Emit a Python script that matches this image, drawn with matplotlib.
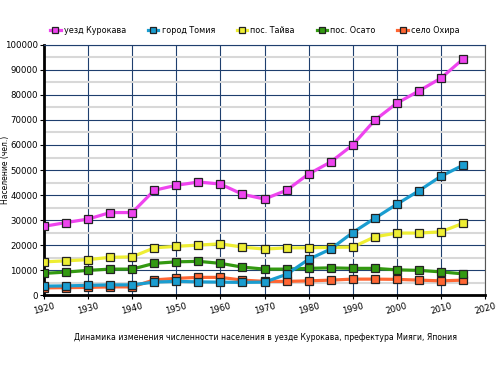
import matplotlib
matplotlib.use("Agg")
import matplotlib.pyplot as plt
import numpy as np

years = list(range(1920, 2020, 5))
series_names = ["уезд Курокава", "город Томия", "пос. Тайва", "пос. Осато", "село Охира"]
kurokawa = [27500, 29000, 30400, 33000, 33000, 41900, 43900, 45200, 44400, 40300,
            38400, 41900, 48400, 53200, 60000, 69900, 76700, 81600, 86700, 94300]
tomiya = [3600, 3700, 3900, 4100, 4100, 5200, 5500, 5300, 5200, 5100,
          5200, 8300, 14300, 18400, 25000, 30700, 36300, 41700, 47500, 51900]
taiwa = [13300, 13700, 14200, 15100, 15300, 18900, 19500, 20000, 20500, 19200,
         18400, 18900, 18900, 19100, 19200, 23300, 24800, 24800, 25300, 28700]
osato = [8700, 9200, 9900, 10400, 10400, 12700, 13300, 13500, 12700, 11200,
         10400, 10400, 10700, 10900, 10700, 10700, 10100, 9900, 9300, 8500]
ohira = [2900, 3000, 3100, 3300, 3300, 6100, 6700, 7100, 7100, 6000,
         5500, 5500, 5700, 6000, 6400, 6400, 6300, 6000, 5700, 6000]
colors = ["#ee44ee", "#1a9dd0", "#eeee33", "#339911", "#ff6633"]

all_series = [kurokawa, tomiya, taiwa, osato, ohira]

fig = plt.figure(figsize=(5.0, 3.68), dpi=100)
ax = fig.add_axes([0.088, 0.198, 0.882, 0.68])

# draw in reverse so the district line sits on top
handles = [None] * 5
for i in reversed(range(5)):
    (h,) = ax.plot(years, all_series[i], color=colors[i], lw=2.3,
                   marker="s", markersize=6.3, markerfacecolor=colors[i],
                   markeredgecolor="#222222", markeredgewidth=0.9,
                   label=series_names[i], zorder=3 + (5 - i))
    handles[i] = h

ax.set_xlim(1920, 2020)
ax.set_ylim(0, 100000)
ax.set_xticks(range(1920, 2021, 10))
ax.set_yticks(range(0, 100001, 10000))
ax.set_yticks(range(5000, 100000, 10000), minor=True)
ax.tick_params(axis="y", which="minor", length=0)
ax.grid(True, which="major", color="#1f3f6e", lw=0.8)
ax.grid(True, which="minor", axis="y", color="#d8d8d8", lw=1.5)
ax.set_axisbelow(True)

ax.tick_params(axis="both", labelsize=6.2, length=3, pad=1.5, color="black")
for lab in ax.get_xticklabels():
    lab.set_rotation(15)
ax.spines["left"].set_linewidth(2)
ax.spines["bottom"].set_linewidth(2)
ax.spines["top"].set_color("#1f3f6e")
ax.spines["right"].set_color("#555555")

ax.set_ylabel("Население (чел.)", fontsize=5.5)
ax.yaxis.set_label_coords(-0.078, 0.5)

fig.legend(handles=handles, labels=series_names, loc="center",
           bbox_to_anchor=(0.51, 0.918), ncol=5, frameon=False, fontsize=5.8,
           handlelength=1.3, handletextpad=0.4, columnspacing=2.7,
           markerscale=0.75)

fig.text(0.53, 0.082,
         "Динамика изменения численности населения в уезде Курокава, префектура Мияги, Япония",
         ha="center", va="center", fontsize=5.6)

fig.savefig("out.png", dpi=100)
